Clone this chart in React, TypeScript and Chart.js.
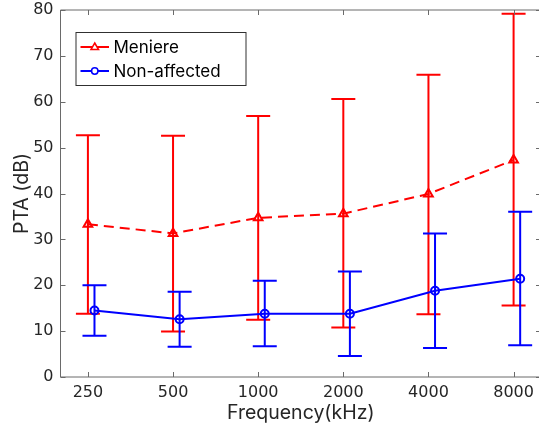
import React, { useEffect, useRef } from 'react';
import { Chart, registerables } from 'chart.js';

Chart.register(...registerables);

// ---- data ----
const frequencies = [250, 500, 1000, 2000, 4000, 8000];
const yTickValues = [0, 10, 20, 30, 40, 50, 60, 70, 80];

const meniereLabel = 'Meniere';
const meniereMean = [33.3, 31.3, 34.7, 35.6, 39.9, 47.3];
const meniereUpper = [52.7, 52.6, 56.9, 60.6, 65.9, 79.2];
const meniereLower = [13.8, 9.9, 12.5, 10.8, 13.7, 15.6];

const normalLabel = 'Non-affected';
const normalMean = [14.5, 12.6, 13.8, 13.8, 18.8, 21.4];
const normalUpper = [20.0, 18.6, 21.0, 23.0, 31.3, 36.0];
const normalLower = [9.0, 6.6, 6.7, 4.6, 6.3, 6.9];
const normalShift = 1.055; // horizontal offset factor of the second series

const FONT = 'Inter, "Liberation Sans", Arial, sans-serif';
const TICK_FONT = '"DejaVu Sans", Inter, sans-serif';
const RED = '#ff0000';
const BLUE = '#0000ff';
const AXIS = '#6a6a6a';
const TEXT = '#262626';

const errorBars = [
  { lower: meniereLower, upper: meniereUpper, color: RED },
  { lower: normalLower, upper: normalUpper, color: BLUE },
];

const framePlugin = {
  id: 'matlabFrame',
  beforeDatasetDraw(chart: any, args: any) {
    const eb = errorBars[args.index];
    if (!eb) return;
    const { ctx } = chart;
    const y = chart.scales.y;
    const meta = args.meta;
    ctx.save();
    ctx.strokeStyle = eb.color;
    ctx.lineWidth = 2;
    ctx.setLineDash([]);
    meta.data.forEach((pt: any, i: number) => {
      const px = pt.x;
      const yl = y.getPixelForValue(eb.lower[i]);
      const yu = y.getPixelForValue(eb.upper[i]);
      ctx.beginPath();
      ctx.moveTo(px, yl);
      ctx.lineTo(px, yu);
      ctx.moveTo(px - 12, yl);
      ctx.lineTo(px + 12, yl);
      ctx.moveTo(px - 12, yu);
      ctx.lineTo(px + 12, yu);
      ctx.stroke();
    });
    ctx.restore();
  },
  afterDatasetsDraw(chart: any) {
    const { ctx, chartArea: a } = chart;
    const xs = chart.scales.x;
    const ys = chart.scales.y;
    ctx.save();
    ctx.strokeStyle = AXIS;
    ctx.lineWidth = 1;
    ctx.setLineDash([]);
    ctx.beginPath();
    ctx.rect(a.left, a.top, a.right - a.left, a.bottom - a.top);
    ctx.stroke();
    const tl = 5;
    ctx.beginPath();
    frequencies.forEach((f) => {
      const px = Math.round(xs.getPixelForValue(f)) + 0.5;
      ctx.moveTo(px, a.bottom);
      ctx.lineTo(px, a.bottom - tl);
      ctx.moveTo(px, a.top);
      ctx.lineTo(px, a.top + tl);
    });
    yTickValues.forEach((v) => {
      const py = Math.round(ys.getPixelForValue(v)) + 0.5;
      ctx.moveTo(a.left, py);
      ctx.lineTo(a.left + tl, py);
      ctx.moveTo(a.right, py);
      ctx.lineTo(a.right - tl, py);
    });
    ctx.stroke();
    ctx.restore();
  },
  afterDraw(chart: any) {
    const { ctx, chartArea: a } = chart;
    const bx = a.left + 15.5;
    const by = a.top + 22.5;
    const bw = 170;
    const bh = 53;
    ctx.save();
    ctx.fillStyle = '#ffffff';
    ctx.fillRect(bx, by, bw, bh);
    ctx.strokeStyle = '#303030';
    ctx.lineWidth = 1;
    ctx.strokeRect(bx, by, bw, bh);
    const rows = [
      { ds: chart.data.datasets[0], y: by + 14.5 },
      { ds: chart.data.datasets[1], y: by + 38.5 },
    ];
    rows.forEach(({ ds, y }) => {
      const x0 = bx + 4.5;
      const x1 = bx + 33;
      const cx = (x0 + x1) / 2;
      ctx.strokeStyle = ds.borderColor;
      ctx.lineWidth = 2;
      ctx.setLineDash([]);
      ctx.beginPath();
      ctx.moveTo(x0, y);
      ctx.lineTo(x1, y);
      ctx.stroke();
      ctx.lineWidth = 1.5;
      ctx.beginPath();
      if (ds.pointStyle === 'triangle') {
        ctx.moveTo(cx, y - 4);
        ctx.lineTo(cx + 3.8, y + 2.5);
        ctx.lineTo(cx - 3.8, y + 2.5);
        ctx.closePath();
      } else {
        ctx.arc(cx, y, 3.2, 0, Math.PI * 2);
      }
      ctx.fillStyle = '#ffffff';
      ctx.fill();
      ctx.stroke();
      ctx.fillStyle = '#000000';
      ctx.font = `17px ${FONT}`;
      ctx.textBaseline = 'middle';
      ctx.textAlign = 'left';
      ctx.fillText(ds.label, bx + 37.5, y + 0.5);
    });
    ctx.restore();
  },
};

export default function App() {
  const ref = useRef<HTMLCanvasElement | null>(null);

  useEffect(() => {
    if (!ref.current) return;
    const chart = new Chart(ref.current, {
      type: 'line',
      data: {
        datasets: [
          {
            label: meniereLabel,
            data: frequencies.map((f, i) => ({ x: f, y: meniereMean[i] })),
            borderColor: RED,
            backgroundColor: RED,
            borderWidth: 2,
            borderDash: [10, 6],
            pointStyle: 'triangle',
            pointRadius: 5,
            pointBorderWidth: 2,
            pointBorderColor: RED,
            pointBackgroundColor: 'rgba(255,255,255,0)',
            tension: 0,
            fill: false,
            order: 2,
          },
          {
            label: normalLabel,
            data: frequencies.map((f, i) => ({ x: f * normalShift, y: normalMean[i] })),
            borderColor: BLUE,
            backgroundColor: BLUE,
            borderWidth: 2,
            pointStyle: 'circle',
            pointRadius: 4,
            pointBorderWidth: 2,
            pointBorderColor: BLUE,
            pointBackgroundColor: 'rgba(255,255,255,0)',
            tension: 0,
            fill: false,
            order: 1,
          },
        ],
      },
      options: {
        animation: false,
        responsive: false,
        devicePixelRatio: 1,
        layout: { padding: { top: 10, right: 4, left: 0, bottom: 0 } },
        plugins: {
          legend: { display: false },
          tooltip: { enabled: false },
        },
        scales: {
          x: {
            type: 'logarithmic',
            min: 200,
            max: 10000,
            grid: { display: false, drawTicks: false },
            border: { display: false },
            afterBuildTicks: (s: any) => {
              s.ticks = frequencies.map((v) => ({ value: v }));
            },
            afterFit: (s: any) => {
              s.height = 48;
              s.paddingLeft = 0;
              s.paddingRight = 0;
            },
            ticks: {
              autoSkip: false,
              maxRotation: 0,
              padding: 6,
              color: TEXT,
              font: { family: TICK_FONT, size: 16 },
              callback: (v: any) => String(v),
            },
            title: {
              display: true,
              text: 'Frequency(kHz)',
              color: TEXT,
              font: { family: FONT, size: 19.5 },
              padding: { top: 0, bottom: 0 },
            },
          },
          y: {
            type: 'linear',
            min: 0,
            max: 80,
            grid: { display: false, drawTicks: false },
            border: { display: false },
            afterFit: (s: any) => {
              s.width = 60.5;
              s.paddingTop = 0;
              s.paddingBottom = 0;
            },
            ticks: {
              stepSize: 10,
              padding: 7,
              color: TEXT,
              font: { family: TICK_FONT, size: 16 },
            },
            title: {
              display: true,
              text: 'PTA (dB)',
              color: TEXT,
              font: { family: FONT, size: 19.5 },
              padding: { top: 10, bottom: 0 },
            },
          },
        },
      },
      plugins: [framePlugin],
    } as any);
    return () => chart.destroy();
  }, []);

  return (
    <div
      style={{
        position: 'fixed',
        left: 0,
        top: 0,
        width: 539,
        height: 425,
        overflow: 'hidden',
        background: '#ffffff',
      }}
    >
      <canvas ref={ref} width={548} height={425} style={{ display: 'block' }} />
    </div>
  );
}
